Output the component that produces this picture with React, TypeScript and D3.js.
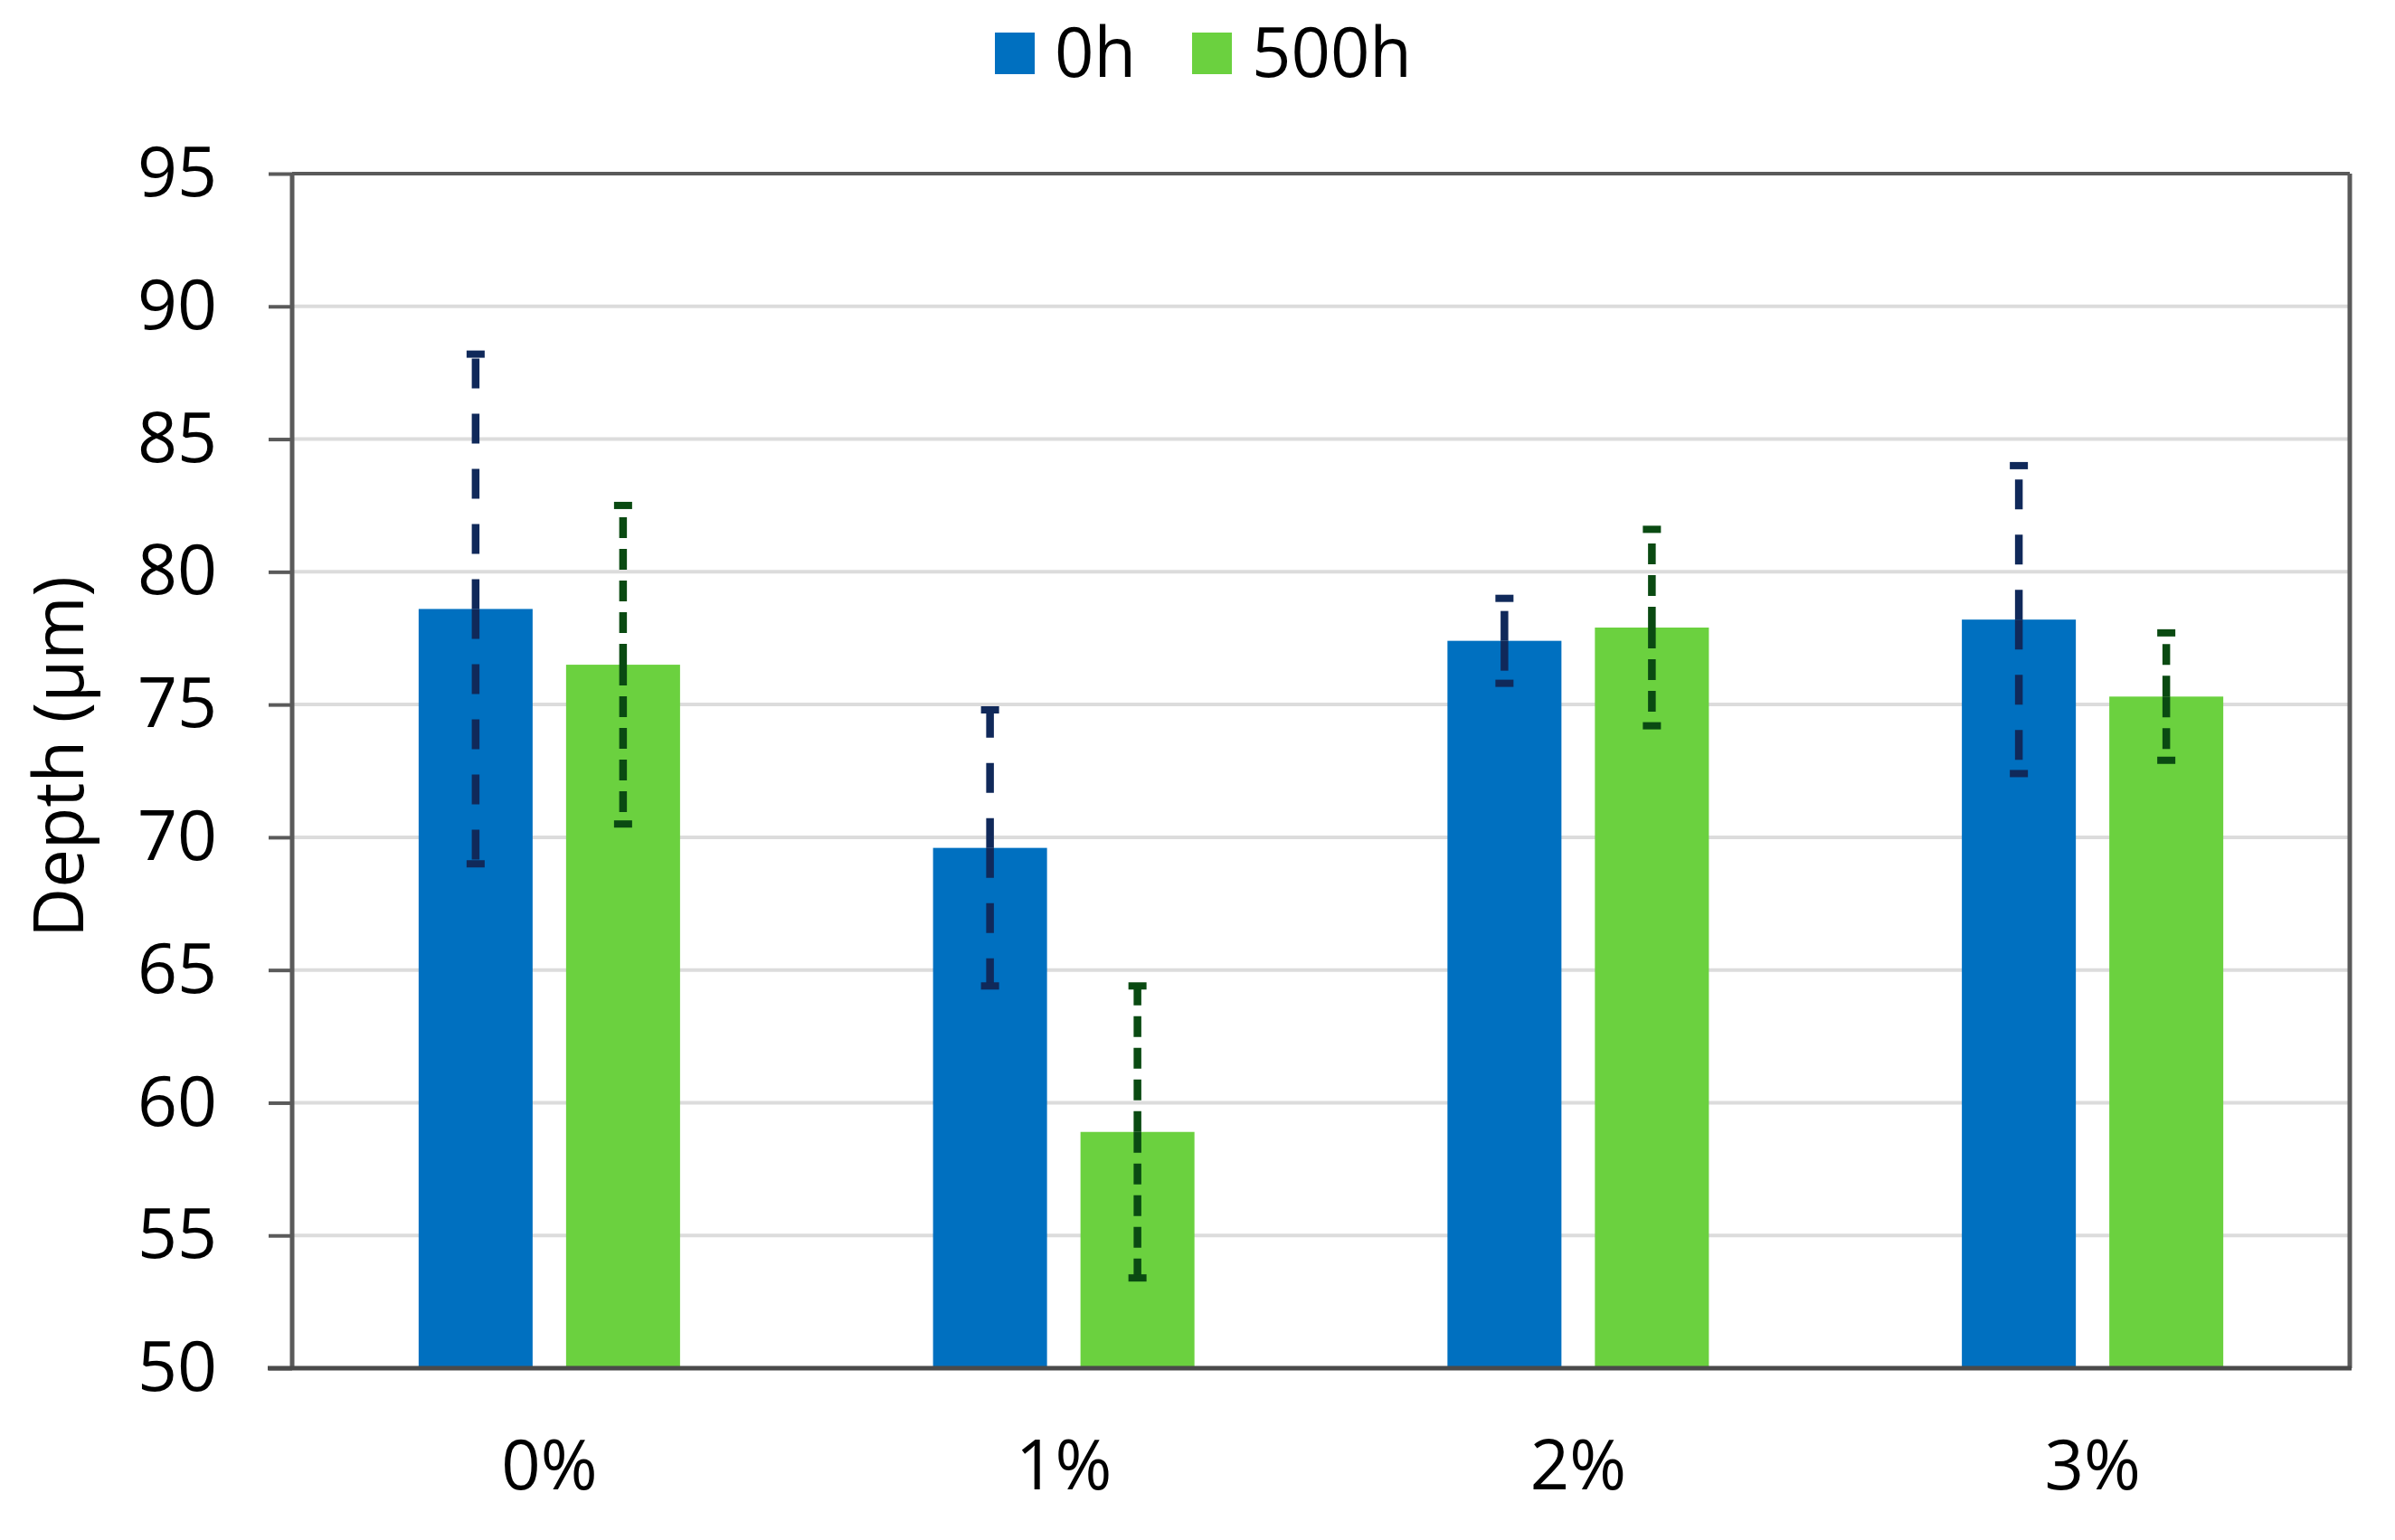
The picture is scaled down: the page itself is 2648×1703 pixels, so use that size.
import { useEffect, useRef } from 'react';
import * as d3 from 'd3';

// Chart values
const categories = ['0%', '1%', '2%', '3%'];
const seriesNames = ['0h', '500h'];
const depth0h = [78.6, 69.6, 77.4, 78.2];
const err0h = [9.6, 5.2, 1.6, 5.8];
const depth500h = [76.5, 58.9, 77.9, 75.3];
const err500h = [6.0, 5.5, 3.7, 2.4];
const yTicks = [50, 55, 60, 65, 70, 75, 80, 85, 90, 95];

const WIDTH = 2648;
const HEIGHT = 1703;
const FONT = "'Open Sans', 'Noto Sans', sans-serif";

const seriesStyle = [
  { fill: '#0070c0', err: '#10295a', dash: '33,28' },
  { fill: '#6bd13f', err: '#0a4a12', dash: '23,12' },
];

export default function App() {
  const svgRef = useRef<SVGSVGElement>(null);

  useEffect(() => {
    if (!svgRef.current) return;
    const root = d3.select(svgRef.current);
    root.selectAll('*').remove();

    const margin = { top: 192, right: 50, bottom: 190, left: 323 };
    const width = WIDTH - margin.left - margin.right;
    const height = HEIGHT - margin.top - margin.bottom;

    const svg = root.append('g')
      .attr('transform', `translate(${margin.left},${margin.top})`);

    const x0 = d3.scaleBand<string>().domain(categories).range([0, width]).padding(0);
    const x1 = d3.scaleBand<string>()
      .domain(seriesNames)
      .range([0, x0.bandwidth()])
      .paddingInner(0.227)
      .paddingOuter(0.858);
    const y = d3.scaleLinear().domain([50, 95]).range([height, 0]);

    // Grid lines
    svg.append('g')
      .selectAll('line')
      .data(yTicks.filter(t => t !== 50 && t !== 95))
      .join('line')
      .attr('x1', 0)
      .attr('x2', width)
      .attr('y1', d => y(d))
      .attr('y2', d => y(d))
      .attr('stroke', '#dcdcdc')
      .attr('stroke-width', 4);

    const series = [
      { name: seriesNames[0], values: depth0h, errors: err0h, ...seriesStyle[0] },
      { name: seriesNames[1], values: depth500h, errors: err500h, ...seriesStyle[1] },
    ];

    // Bars
    series.forEach(s => {
      svg.append('g')
        .selectAll('rect')
        .data(s.values)
        .join('rect')
        .attr('x', (_, i) => (x0(categories[i]) ?? 0) + (x1(s.name) ?? 0))
        .attr('y', d => y(d))
        .attr('width', x1.bandwidth())
        .attr('height', d => height - y(d))
        .attr('fill', s.fill);
    });

    // Error bars: dash pattern starts at the bar top in each direction
    series.forEach(s => {
      const g = svg.append('g');
      s.values.forEach((v, i) => {
        const cx = (x0(categories[i]) ?? 0) + (x1(s.name) ?? 0) + x1.bandwidth() / 2;
        const e = s.errors[i];
        [v + e, v - e].forEach(end => {
          g.append('line')
            .attr('x1', cx)
            .attr('x2', cx)
            .attr('y1', y(v))
            .attr('y2', y(end))
            .attr('stroke', s.err)
            .attr('stroke-width', 8.5)
            .attr('stroke-dasharray', s.dash);
          g.append('line')
            .attr('x1', cx - 10)
            .attr('x2', cx + 10)
            .attr('y1', y(end))
            .attr('y2', y(end))
            .attr('stroke', s.err)
            .attr('stroke-width', 8);
        });
      });
    });

    // Plot frame
    const frameColor = '#5a5a5a';
    svg.append('line')
      .attr('x1', 0).attr('x2', width).attr('y1', 0).attr('y2', 0)
      .attr('stroke', frameColor).attr('stroke-width', 4);
    svg.append('line')
      .attr('x1', width).attr('x2', width).attr('y1', 0).attr('y2', height)
      .attr('stroke', frameColor).attr('stroke-width', 5);
    svg.append('line')
      .attr('x1', 0).attr('x2', 0).attr('y1', 0).attr('y2', height)
      .attr('stroke', frameColor).attr('stroke-width', 5);

    // Y axis
    const yAxis = svg.append('g')
      .call(d3.axisLeft(y).tickValues(yTicks).tickSize(26).tickPadding(57).tickFormat(d3.format('d')));
    yAxis.select('.domain').remove();
    yAxis.selectAll('line').attr('stroke', frameColor).attr('stroke-width', 4);
    yAxis.selectAll('text')
      .attr('fill', '#000')
      .style('font-family', FONT)
      .style('font-size', '77px');

    // Bottom axis line
    svg.append('line')
      .attr('x1', -27).attr('x2', width + 2).attr('y1', height).attr('y2', height)
      .attr('stroke', '#4a4a4a').attr('stroke-width', 5);

    // X axis labels
    const xAxis = svg.append('g')
      .attr('transform', `translate(0,${height})`)
      .call(d3.axisBottom(x0).tickSize(0).tickPadding(80));
    xAxis.select('.domain').remove();
    xAxis.selectAll('text')
      .attr('fill', '#000')
      .style('font-family', FONT)
      .style('font-size', '76px');

    // Y axis title
    root.append('text')
      .attr('transform', `translate(92,837) rotate(-90)`)
      .attr('text-anchor', 'middle')
      .style('font-family', FONT)
      .style('font-size', '76px')
      .attr('fill', '#000')
      .text('Depth (μm)');

    // Legend
    const legend = root.append('g').attr('transform', 'translate(1100,0)');
    const legendOffsets = [0, 218];
    series.forEach((s, i) => {
      legend.append('rect')
        .attr('x', legendOffsets[i])
        .attr('y', 36)
        .attr('width', 44)
        .attr('height', 46)
        .attr('fill', s.fill);
      legend.append('text')
        .attr('x', legendOffsets[i] + 66)
        .attr('y', 85)
        .style('font-family', FONT)
        .style('font-size', '76px')
        .attr('fill', '#000')
        .text(s.name);
    });
  }, []);

  return (
    <>
      <style>{'body{margin:0;background:#fff}'}</style>
      <svg ref={svgRef} width={WIDTH} height={HEIGHT} style={{ display: 'block', background: '#fff' }} />
    </>
  );
}
